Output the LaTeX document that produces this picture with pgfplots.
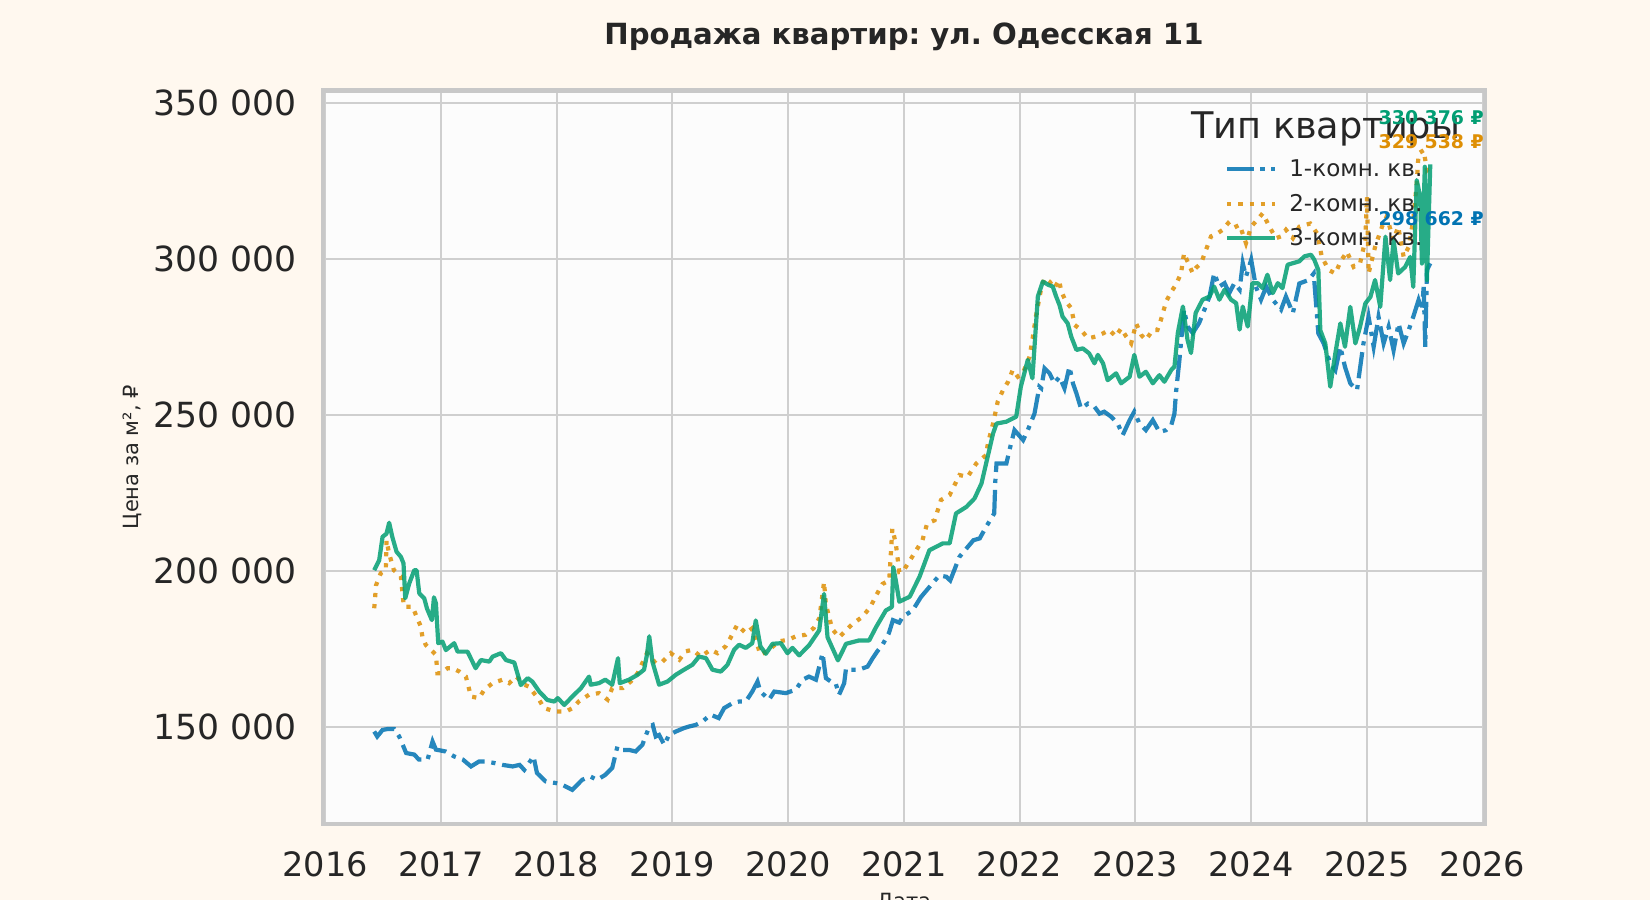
\documentclass[border=0pt]{standalone}
\usepackage{fontspec}
\setmainfont{DejaVu Sans}
\usepackage{pgfplots}
\usepackage{pgfplotstable}
\pgfplotsset{compat=1.18}
\frenchspacing

\definecolor{bgcream}{HTML}{FFF8EF}
\definecolor{c1}{HTML}{0173B2}
\definecolor{c2}{HTML}{DE8F05}
\definecolor{c3}{HTML}{029E73}
\definecolor{gridc}{HTML}{CFCFCF}
\definecolor{framec}{HTML}{C8C8C8}
\definecolor{txt}{HTML}{262626}

% 1-комн.
\pgfplotstableread{
x y
2016.424 148600
2016.45 147000
2016.496 149100
2016.54 149400
2016.597 149400
2016.64 147000
2016.70 141700
2016.77 141200
2016.81 139600
2016.885 139600
2016.928 145400
2016.957 142800
2017.04 142200
2017.115 140600
2017.19 139600
2017.26 137400
2017.33 139000
2017.39 139000
2017.46 138500
2017.533 137900
2017.62 137400
2017.68 137900
2017.72 136300
2017.80 140600
2017.83 135300
2017.905 132600
2017.99 132100
2018.05 131500
2018.135 129900
2018.22 133100
2018.29 134200
2018.35 133100
2018.42 134700
2018.48 136900
2018.525 143800
2018.57 142700
2018.625 142700
2018.683 142200
2018.74 144300
2018.80 150200
2018.83 150700
2018.856 147000
2018.885 147500
2018.93 144300
2018.97 147500
2019.03 148600
2019.10 149700
2019.144 150200
2019.20 150700
2019.26 151800
2019.33 154000
2019.40 152900
2019.447 156100
2019.52 157700
2019.576 158200
2019.634 158200
2019.69 161400
2019.735 164600
2019.76 161400
2019.835 158800
2019.88 161400
2019.98 160900
2020.066 162000
2020.124 165200
2020.18 166200
2020.24 165200
2020.297 173700
2020.326 165700
2020.37 164600
2020.41 164100
2020.44 160400
2020.484 164100
2020.50 168900
2020.54 168400
2020.61 168400
2020.686 169400
2020.73 172100
2020.77 174300
2020.815 176400
2020.87 180100
2020.905 184300
2020.96 183500
2020.99 185400
2021.075 187400
2021.147 191700
2021.22 194900
2021.305 198600
2021.366 198200
2021.40 197000
2021.48 204600
2021.60 209900
2021.655 210500
2021.71 214200
2021.78 218500
2021.79 229200
2021.80 234500
2021.885 234500
2021.912 238800
2021.955 245200
2022.03 242000
2022.07 245200
2022.128 250500
2022.17 259100
2022.186 258600
2022.215 265000
2022.258 263400
2022.30 260200
2022.344 262300
2022.387 258600
2022.43 265500
2022.46 260200
2022.49 257000
2022.53 252100
2022.59 253700
2022.646 252700
2022.69 250500
2022.73 251100
2022.79 249500
2022.847 247300
2022.89 243600
2022.95 248400
2022.99 251100
2023.035 247300
2023.09 245200
2023.15 248400
2023.207 244600
2023.265 245200
2023.31 246800
2023.337 250500
2023.35 257100
2023.38 267700
2023.42 283800
2023.45 278400
2023.495 276300
2023.55 279500
2023.596 283800
2023.64 288000
2023.68 295500
2023.725 291200
2023.77 292300
2023.81 289100
2023.855 292300
2023.90 290200
2023.927 298700
2023.955 294400
2024.0 299800
2024.04 291200
2024.085 287000
2024.13 291200
2024.186 287000
2024.258 283800
2024.30 288000
2024.36 282700
2024.416 292200
2024.496 293300
2024.54 295400
2024.58 276200
2024.626 273000
2024.683 266600
2024.727 264400
2024.77 271900
2024.81 265500
2024.856 260200
2024.914 258000
2024.97 273000
2025.014 281500
2025.058 271900
2025.1 281500
2025.144 273000
2025.187 278300
2025.23 270800
2025.273 279400
2025.317 273000
2025.36 277200
2025.40 281500
2025.446 286900
2025.475 283600
2025.49 291100
2025.504 271900
2025.518 296500
2025.547 298662
}\onebed

% 2-комн.
\pgfplotstableread{
x y
2016.424 188100
2016.44 195500
2016.48 199300
2016.524 200300
2016.53 209900
2016.553 205600
2016.594 200300
2016.654 198400
2016.68 188600
2016.755 188600
2016.79 185400
2016.827 182200
2016.84 179000
2016.87 176300
2016.93 174200
2016.957 173100
2016.97 167300
2017.0 167300
2017.058 168900
2017.1 168900
2017.16 167800
2017.216 166200
2017.26 159800
2017.33 159300
2017.375 162000
2017.447 164100
2017.533 165200
2017.59 164100
2017.65 166200
2017.72 163600
2017.76 163000
2017.85 158700
2017.89 156100
2017.99 155000
2018.08 155000
2018.138 156100
2018.19 158200
2018.28 160400
2018.366 160900
2018.44 158800
2018.48 162500
2018.57 162500
2018.64 164600
2018.70 167300
2018.78 173700
2018.856 170500
2018.914 171000
2018.986 173700
2019.06 171600
2019.115 174300
2019.173 174800
2019.245 172600
2019.33 174800
2019.39 173700
2019.46 175900
2019.50 178500
2019.56 182800
2019.634 180100
2019.69 181700
2019.76 173200
2019.82 174300
2019.92 177500
2020.0 178000
2020.066 179100
2020.15 179600
2020.22 181700
2020.27 185000
2020.31 196500
2020.325 189500
2020.38 181500
2020.44 178800
2020.556 183100
2020.64 185300
2020.71 188500
2020.76 192200
2020.815 195900
2020.873 197000
2020.90 213600
2020.93 208800
2020.96 199700
2020.99 199800
2021.08 205100
2021.16 209900
2021.2 215200
2021.265 216300
2021.32 222800
2021.395 224400
2021.48 230800
2021.55 230200
2021.625 234500
2021.71 237200
2021.725 240900
2021.77 247300
2021.81 254300
2021.856 258000
2021.90 260700
2021.94 264500
2021.984 262300
2022.027 263400
2022.085 268700
2022.11 274100
2022.14 281600
2022.186 290700
2022.215 293900
2022.258 292800
2022.30 290700
2022.34 293300
2022.36 289600
2022.40 286400
2022.445 284300
2022.475 278900
2022.53 277300
2022.59 274600
2022.66 275200
2022.72 276200
2022.775 277300
2022.83 275200
2022.876 277800
2022.92 275200
2022.963 273000
2023.006 279400
2023.05 275700
2023.09 274100
2023.15 277300
2023.19 277300
2023.22 280500
2023.265 286400
2023.31 289600
2023.35 291800
2023.394 295500
2023.42 301900
2023.45 299200
2023.495 295500
2023.52 297100
2023.567 298700
2023.61 303000
2023.653 307300
2023.71 308300
2023.754 309400
2023.80 311500
2023.84 309900
2023.90 311000
2023.955 305100
2024.0 310400
2024.04 312100
2024.10 314700
2024.157 310400
2024.214 306700
2024.258 307300
2024.30 309400
2024.36 306700
2024.416 310400
2024.47 311000
2024.51 311400
2024.57 308200
2024.61 300700
2024.67 296500
2024.727 295400
2024.77 299100
2024.827 302400
2024.885 297500
2024.94 298600
2024.986 306100
2025.0 320000
2025.014 295400
2025.07 303900
2025.13 310400
2025.17 313600
2025.23 306100
2025.27 310400
2025.317 300700
2025.36 303900
2025.40 312500
2025.43 324300
2025.446 333900
2025.49 334900
2025.518 328500
2025.547 329538
}\twobed

% 3-комн.
\pgfplotstableread{
x y
2016.424 200300
2016.467 203500
2016.496 211000
2016.53 212000
2016.553 215500
2016.58 211000
2016.617 206200
2016.654 204600
2016.677 202500
2016.692 191300
2016.726 196000
2016.77 200300
2016.79 200300
2016.813 192900
2016.856 191300
2016.88 188000
2016.922 184300
2016.94 191600
2016.957 189700
2016.977 176900
2017.014 177400
2017.043 174700
2017.115 176900
2017.144 174200
2017.23 174200
2017.30 168900
2017.346 171500
2017.418 171000
2017.447 172600
2017.519 173700
2017.562 171500
2017.634 170700
2017.69 163500
2017.75 165700
2017.79 164600
2017.85 161400
2017.92 158700
2017.98 158200
2018.01 159300
2018.066 157100
2018.135 159800
2018.21 162500
2018.28 166200
2018.294 163600
2018.366 164100
2018.42 165200
2018.48 163600
2018.53 172100
2018.545 164100
2018.625 165200
2018.70 166800
2018.755 168400
2018.78 173200
2018.80 179100
2018.827 171000
2018.885 163600
2018.957 164600
2019.03 166800
2019.10 168400
2019.173 170000
2019.23 172600
2019.29 172100
2019.346 168400
2019.418 167800
2019.476 170000
2019.533 174800
2019.576 176400
2019.634 175400
2019.69 176900
2019.72 184200
2019.76 175900
2019.807 173500
2019.865 176700
2019.937 176900
2019.994 173700
2020.037 175400
2020.095 173000
2020.18 176200
2020.268 181000
2020.31 192700
2020.34 178800
2020.43 171400
2020.50 176700
2020.614 177800
2020.70 177800
2020.76 182100
2020.844 187400
2020.896 188500
2020.908 201300
2020.93 197000
2020.96 190200
2021.05 191800
2021.135 198200
2021.22 206700
2021.337 208900
2021.395 208900
2021.45 218500
2021.54 220600
2021.61 223300
2021.67 228100
2021.71 234500
2021.77 244100
2021.80 247300
2021.885 247900
2021.97 249500
2022.01 259100
2022.07 267700
2022.11 261800
2022.157 288000
2022.2 292800
2022.245 291800
2022.286 291200
2022.315 288000
2022.344 285300
2022.37 281600
2022.415 279400
2022.445 275200
2022.49 270900
2022.545 271400
2022.60 269800
2022.646 266600
2022.675 269300
2022.72 266600
2022.76 261200
2022.833 263400
2022.876 260200
2022.95 262300
2022.99 269300
2023.035 262300
2023.09 263900
2023.15 260200
2023.207 262800
2023.25 260700
2023.31 264500
2023.337 265500
2023.366 276300
2023.41 284800
2023.45 274100
2023.48 269900
2023.52 282700
2023.58 287000
2023.64 288000
2023.68 291200
2023.725 287000
2023.77 290200
2023.826 287000
2023.87 285900
2023.90 277400
2023.927 284800
2023.97 278400
2024.01 292300
2024.056 292300
2024.10 290700
2024.14 295000
2024.186 289100
2024.23 292300
2024.27 290700
2024.315 298200
2024.36 298700
2024.416 299300
2024.46 300900
2024.517 301400
2024.545 299800
2024.58 296500
2024.597 277200
2024.64 273000
2024.683 259100
2024.727 269800
2024.77 279400
2024.81 271900
2024.856 284700
2024.90 273000
2024.94 278300
2024.986 285800
2025.03 287900
2025.07 293300
2025.115 284700
2025.16 307200
2025.2 293300
2025.23 306100
2025.27 295400
2025.33 297500
2025.374 300700
2025.40 291100
2025.43 325300
2025.46 320000
2025.475 298600
2025.50 329600
2025.518 293300
2025.547 330376
}\threebed

\begin{document}
\begin{tikzpicture}
\fill[bgcream] (0,0) rectangle (1568bp,855bp);
\useasboundingbox (0,0) rectangle (1568bp,855bp);
\begin{axis}[
  at={(307bp,72bp)}, anchor=south west,
  scale only axis, width=1104bp, height=697bp,
  xmin=2015.982, xmax=2026.018, ymin=118970, ymax=354050,
  clip mode=individual,
  axis background/.style={fill=white!99!black},
  axis line style={draw=framec, line width=4bp},
  grid=major, major grid style={draw=gridc, line width=2bp},
  major tick length=0pt,
  xtick={2016,2017,...,2026},
  xticklabels={2016,2017,2018,2019,2020,2021,2022,2023,2024,2025,2026},
  ytick={150000,200000,250000,300000,350000},
  yticklabels={150 000,200 000,250 000,300 000,350 000},
  scaled y ticks=false,
  tick label style={font=\fontsize{32}{38}\selectfont, text=txt},
  xticklabel style={yshift=-23bp},
  yticklabel style={xshift=-22bp, font=\fontsize{33}{39}\selectfont},
  title={Продажа квартир: ул. Одесская 11},
  title style={font=\bfseries\fontsize{27.8}{33}\selectfont, text=txt, at={(0.5,1)}, anchor=center, yshift=45bp},
  ylabel={Цена за м², ₽},
  every axis y label/.style={at={(axis description cs:-0.164,0.5)}, rotate=90, anchor=center, font=\fontsize{20}{24}\selectfont, text=txt},
  xlabel={Дата},
  every axis x label/.style={at={(axis description cs:0.5,0)}, anchor=north, yshift=-66bp, inner sep=0pt, font=\fontsize{20}{24}\selectfont, text=txt},
  legend image code/.code={\draw[#1] (0bp,0bp) -- (45bp,0bp); \path (55bp,0bp);},
  legend cell align=left,
  legend style={at={(axis description cs:0.7736,0.911)}, anchor=north west, draw=none, fill=none,
    font=\fontsize{22}{26}\selectfont, text=txt, row sep=11bp},
]
\addplot[c1, opacity=0.85, line width=4bp, dash pattern=on 25bp off 6.5bp on 4bp off 6.5bp] table {\onebed};
\addlegendentry{1-комн. кв.}
\addplot[c2, opacity=0.85, line width=4bp, dash pattern=on 4bp off 6.6bp] table {\twobed};
\addlegendentry{2-комн. кв.}
\addplot[c3, opacity=0.85, line width=4bp, line join=round] table {\threebed};
\addlegendentry{3-комн. кв.}
\node[font=\fontsize{35}{42}\selectfont, text=txt] at (axis description cs:0.863,0.947) {Тип квартиры};
\node[anchor=west, inner sep=0pt, font=\bfseries\fontsize{18}{21}\selectfont, text=c3] at (axis cs:2025.1,345280) {330 376 ₽};
\node[anchor=west, inner sep=0pt, font=\bfseries\fontsize{18}{21}\selectfont, text=c2] at (axis cs:2025.1,337520) {329 538 ₽};
\node[anchor=west, inner sep=0pt, font=\bfseries\fontsize{18}{21}\selectfont, text=c1] at (axis cs:2025.1,312900) {298 662 ₽};
\end{axis}
\end{tikzpicture}
\end{document}
